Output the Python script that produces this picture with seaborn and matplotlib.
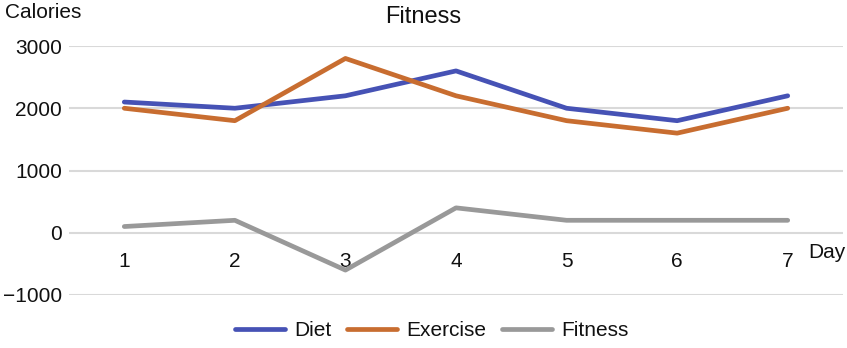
import matplotlib
matplotlib.use("Agg")
import matplotlib.pyplot as plt
import seaborn as sns
import pandas as pd

days = [1, 2, 3, 4, 5, 6, 7]
diet = [2100, 2000, 2200, 2600, 2000, 1800, 2200]
exercise = [2000, 1800, 2800, 2200, 1800, 1600, 2000]
fitness = [100, 200, -600, 400, 200, 200, 200]
series_names = ["Diet", "Exercise", "Fitness"]
colors = ["#4652B5", "#C86D30", "#999999"]
y_ticks = [-1000, 0, 1000, 2000, 3000]

sns.set_theme(style="white")
plt.rcParams["font.family"] = ["Liberation Sans", "DejaVu Sans"]

df = pd.concat([
    pd.DataFrame({"Day": days, "Calories": vals, "Series": name})
    for name, vals in zip(series_names, [diet, exercise, fitness])
])

fig = plt.figure(figsize=(8.47, 3.48), dpi=100)
ax = fig.add_axes([69/847, 1-295/348, (843-69)/847, (295-46)/348])

sns.lineplot(data=df, x="Day", y="Calories", hue="Series", hue_order=series_names,
             palette=colors, linewidth=3.4, ax=ax, legend=False,
             solid_capstyle="round", solid_joinstyle="round")

ax.set_xlim(0.5, 7.5)
ax.set_ylim(-1000, 3000)
ax.set_yticks(y_ticks)
ax.set_yticklabels([f"{v}".replace("-", "\u2212") for v in y_ticks])
ax.set_xticks(days)
ax.set_xticklabels([str(d) for d in days])
for s in ax.spines.values():
    s.set_visible(False)
ax.spines["bottom"].set_position(("data", 0))
ax.grid(axis="y", color="#d9d9d9", linewidth=1.5)
ax.set_axisbelow(True)
ax.tick_params(axis="y", length=0, pad=5, labelsize=15, colors="#111111")
ax.tick_params(axis="x", length=0, pad=14, labelsize=15, colors="#111111")
ax.set_xlabel("")
ax.set_ylabel("")

fig.text(0.5, 1-17/348, "Fitness", ha="center", va="center", fontsize=17, color="#111111")
fig.text(5/847, 1-12/348, "Calories", ha="left", va="center", fontsize=15, color="#111111")
fig.text(808/847, 1-253/348, "Day", ha="left", va="center", fontsize=15, color="#111111")

handles = [plt.Line2D([0], [0], color=c, linewidth=3.4, solid_capstyle="round") for c in colors]
fig.legend(handles, series_names, loc="center", bbox_to_anchor=(432/847, 1-331/348), ncol=3,
           frameon=False, fontsize=15, handlelength=2.4, handletextpad=0.45,
           columnspacing=0.75, labelcolor="#111111")

fig.savefig("out.png", dpi=100)
